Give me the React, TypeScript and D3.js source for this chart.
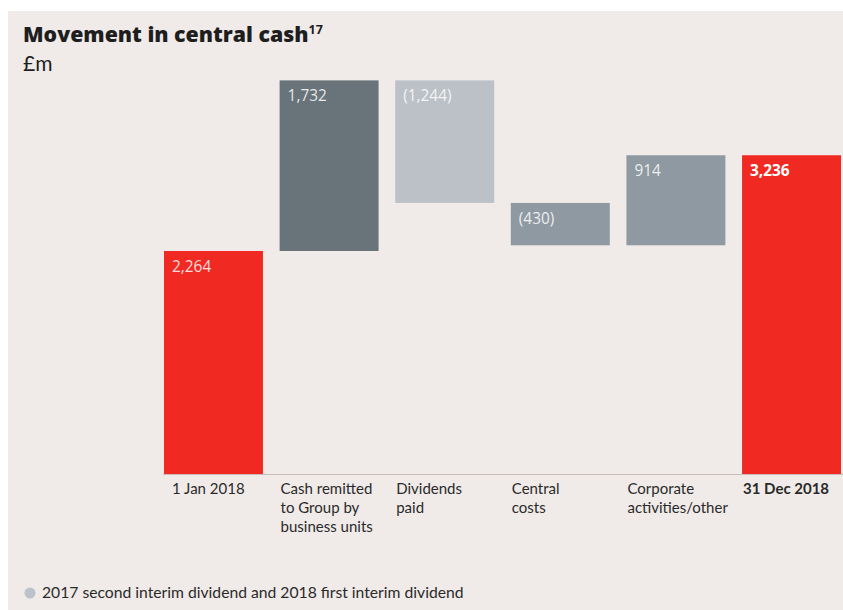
import React from "react";
import * as d3 from "d3";

const categories = ["1 Jan 2018", "Cash remitted to Group by business units", "Dividends paid", "Central costs", "Corporate activities/other", "31 Dec 2018"];
const categoryLines = [["1 Jan 2018"], ["Cash remitted", "to Group by", "business units"], ["Dividends", "paid"], ["Central", "costs"], ["Corporate", "activities/other"], ["31 Dec 2018"]];
const values = [2264, 1732, -1244, -430, 914, 3236];
const kinds = ["total", "change", "change", "change", "change", "total"];
const valueLabels = ["2,264", "1,732", "(1,244)", "(430)", "914", "3,236"];
const barColors = ["#f02a22", "#69737a", "#bbc1c7", "#8f99a1", "#8f99a1", "#f02a22"];
const legendText = "2017 second interim dividend and 2018 first interim dividend";

const W = 843;
const H = 610;

export default function App() {
  const x = d3.scaleBand<string>().domain(categories).range([164, 841]).paddingInner(0.144).paddingOuter(0);
  const y = d3.scaleLinear().domain([0, 4000]).range([474, 80]);

  let running = 0;
  const bars = values.map((v, i) => {
    let start: number, end: number;
    if (kinds[i] === "total") {
      start = 0;
      end = v;
      running = v;
    } else {
      start = running;
      end = running + v;
      running = end;
    }
    return { cat: categories[i], lo: Math.min(start, end), hi: Math.max(start, end), i };
  });

  const labelFont = "Lato, 'Open Sans', sans-serif";

  return (
    <svg width={W} height={H} style={{ position: "absolute", left: 0, top: 0 }} xmlns="http://www.w3.org/2000/svg">
      <rect x={0} y={0} width={W} height={H} fill="#ffffff" />
      <rect x={8} y={11} width={W - 8} height={H - 11} fill="#f0ebe8" />
      <text x={23} y={42} fontFamily="'Open Sans', sans-serif" fontWeight={800} fontSize={21.3} fill="#1e1e1e">
        Movement in central cash
        <tspan dy={-8} fontSize={12.5} fontWeight={700}>17</tspan>
      </text>
      <text x={23} y={71} fontFamily={labelFont} fontWeight={400} fontSize={21} fill="#1e1e1e">£m</text>

      {bars.map((b) => (
        <g key={b.cat}>
          <rect x={x(b.cat)} y={y(b.hi)} width={x.bandwidth()} height={y(b.lo) - y(b.hi)} fill={barColors[b.i]} />
          <text
            x={(x(b.cat) as number) + 8}
            y={y(b.hi) + 21}
            fontFamily="'Open Sans', sans-serif"
            fontSize={15.4}
            fontWeight={b.i === 5 ? 700 : 400}
            fill="#ffffff"
            fillOpacity={b.i === 5 ? 1 : 0.85}
          >
            {valueLabels[b.i]}
          </text>
        </g>
      ))}

      <line x1={163} x2={843} y1={474.5} y2={474.5} stroke="#c9bdb9" strokeWidth={1.2} />

      {categories.map((c, i) => (
        <text
          key={c}
          x={(x(c) as number) + (i === 0 ? 8 : 1)}
          y={494}
          fontFamily={labelFont}
          fontSize={15}
          fontWeight={i === 5 ? 700 : 400}
          fill="#2a2a2a"
        >
          {categoryLines[i].map((line, j) => (
            <tspan key={j} x={(x(c) as number) + (i === 0 ? 8 : 1)} dy={j === 0 ? 0 : 19}>
              {line}
            </tspan>
          ))}
        </text>
      ))}

      <circle cx={30} cy={593} r={5.5} fill="#bbc2c9" />
      <text x={42} y={598} fontFamily={labelFont} fontSize={15.7} fill="#2a2a2a">{legendText}</text>
    </svg>
  );
}
